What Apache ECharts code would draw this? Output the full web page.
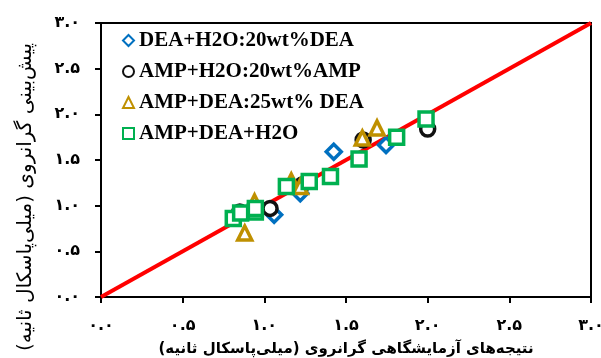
<!DOCTYPE html>
<html>
<head>
<meta charset="utf-8">
<script src="https://cdn.jsdelivr.net/npm/echarts@6/dist/echarts.min.js"></script>
<style>
html, body { margin: 0; padding: 0; background: #fff; }
#chart { width: 601px; height: 358px; }
</style>
</head>
<body>
<div id="chart"></div>
<script>
// داده‌ها: گرانروی آزمایشگاهی (x) و پیش‌بینی (y)
var tickLabels = ['۰.۰', '۰.۵', '۱.۰', '۱.۵', '۲.۰', '۲.۵', '۳.۰'];
var seriesNames = ['DEA+H2O:20wt%DEA', 'AMP+H2O:20wt%AMP', 'AMP+DEA:25wt% DEA', 'AMP+DEA+H2O'];

var deaH2O = [[1.06, 0.90], [1.22, 1.135], [1.425, 1.59], [1.745, 1.665]];
var ampH2O = [[0.85, 0.93], [1.035, 0.97], [1.23, 1.225], [1.605, 1.72], [2.0, 1.84]];
var ampDea = [[0.88, 0.70], [0.94, 1.04], [1.165, 1.27], [1.22, 1.21], [1.60, 1.74], [1.69, 1.85]];
var ampDeaH2O = [[0.81, 0.86], [0.855, 0.92], [0.945, 0.93], [0.945, 0.97], [1.135, 1.21],
	[1.275, 1.265], [1.405, 1.32], [1.58, 1.51], [1.81, 1.75], [1.99, 1.95]];
var idealLine = [[0, 0], [3, 3]];

var chart = echarts.init(document.getElementById('chart'));

function tickFmt(v) {
	return tickLabels[Math.round(v / 0.5)];
}

function markSeries(name, data, symbol, color, size) {
	return {
		name : name,
		type : 'scatter',
		data : data,
		symbol : symbol,
		symbolSize : size,
		z : 3,
		itemStyle : {
			color : '#fff',
			borderColor : color,
			borderWidth : 3.5,
			opacity : 1
		}
	};
}

var axisCommon = {
	type : 'value',
	min : 0,
	max : 3,
	interval : 0.5,
	splitLine : { show : false },
	axisLine : { show : true, lineStyle : { color : '#000', width : 2 } },
	axisTick : { show : true, inside : false, length : 6, lineStyle : { color : '#000', width : 2 } },
	axisLabel : {
		formatter : tickFmt,
		color : '#000',
		fontFamily : 'DejaVu Sans',
		fontWeight : 'bold',
		fontSize : 16,
		margin : 21
	}
};

var option = {
	animation : false,
	backgroundColor : '#fff',
	grid : {
		left : 101, right : 10, top : 23, bottom : 61,
		outerBoundsMode : 'none',
		containLabel : false,
		show : true, borderColor : '#000', borderWidth : 2
	},
	xAxis : echarts.util.merge({
		name : 'نتیجه‌های آزمایشگاهی گرانروی (میلی‌پاسکال ثانیه)',
		nameLocation : 'middle',
		nameGap : 45,
		nameTextStyle : { color : '#000', fontFamily : 'DejaVu Sans', fontWeight : 'bold', fontSize : 15 }
	}, echarts.util.clone(axisCommon)),
	yAxis : echarts.util.clone(axisCommon),
	legend : {
		orient : 'vertical',
		left : 117,
		top : 25,
		itemWidth : 11,
		itemHeight : 11,
		itemGap : 10,
		data : seriesNames,
		textStyle : { color : '#000', fontFamily : 'Liberation Serif', fontWeight : 'bold', fontSize : 21 }
	},
	graphic : [{
		type : 'text',
		x : 26,
		y : 197,
		rotation : Math.PI / 2,
		style : {
			text : 'پیش‌بینی گرانروی (میلی‌پاسکال ثانیه)',
			font : '20px "DejaVu Sans"',
			fill : '#000',
			align : 'center',
			verticalAlign : 'middle'
		}
	}],
	series : [{
		type : 'line',
		data : idealLine,
		symbol : 'none',
		z : 1,
		lineStyle : { color : '#ff0000', width : 4 }
	},
		markSeries(seriesNames[0], deaH2O, 'diamond', '#0070C0', 15),
		markSeries(seriesNames[1], ampH2O, 'circle', '#111', 14),
		markSeries(seriesNames[2], ampDea, 'triangle', '#BF9000', 14),
		markSeries(seriesNames[3], ampDeaH2O, 'rect', '#00B050', 14)
	]
};

chart.setOption(option);
</script>
</body>
</html>
